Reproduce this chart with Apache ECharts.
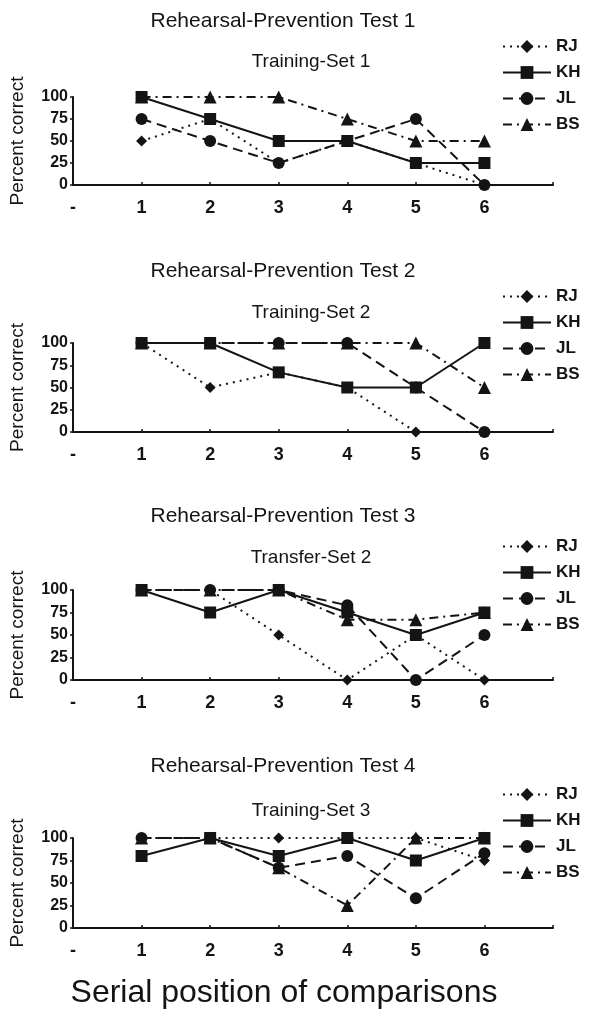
<!DOCTYPE html>
<html>
<head>
<meta charset="utf-8">
<script src="https://cdn.jsdelivr.net/npm/echarts@6/dist/echarts.min.js"></script>
<style>
html,body{margin:0;padding:0;background:#fff;}
#chart{width:603px;height:1022px;}
</style>
</head>
<body>
<div id="chart"></div>
<script>
// ---- data ----
const xCategories = ['-', '1', '2', '3', '4', '5', '6', ''];
const yTicks = [0, 25, 50, 75, 100];
const subjects = ['RJ', 'KH', 'JL', 'BS'];
const panelTitles = ['Rehearsal-Prevention Test 1', 'Rehearsal-Prevention Test 2', 'Rehearsal-Prevention Test 3', 'Rehearsal-Prevention Test 4'];
const panelSubtitles = ['Training-Set 1', 'Training-Set 2', 'Transfer-Set 2', 'Training-Set 3'];
const xAxisTitle = 'Serial position of comparisons';
const yAxisTitle = 'Percent correct';

// Test 1 (Training-Set 1), positions 1..6
const t1RJ = [50, 75, 25, 50, 25, 0];
const t1KH = [100, 75, 50, 50, 25, 25];
const t1JL = [75, 50, 25, 50, 75, 0];
const t1BS = [100, 100, 100, 75, 50, 50];
// Test 2 (Training-Set 2)
const t2RJ = [100, 50, 67, 50, 0, 0];
const t2KH = [100, 100, 67, 50, 50, 100];
const t2JL = [100, 100, 100, 100, 50, 0];
const t2BS = [100, 100, 100, 100, 100, 50];
// Test 3 (Transfer-Set 2)
const t3RJ = [100, 100, 50, 0, 50, 0];
const t3KH = [100, 75, 100, 75, 50, 75];
const t3JL = [100, 100, 100, 83, 0, 50];
const t3BS = [100, 100, 100, 67, 67, 75];
// Test 4 (Training-Set 3)
const t4RJ = [100, 100, 100, 100, 100, 75];
const t4KH = [80, 100, 80, 100, 75, 100];
const t4JL = [100, 100, 67, 80, 33, 83];
const t4BS = [100, 100, 67, 25, 100, 100];

const panelData = [
  [t1RJ, t1KH, t1JL, t1BS],
  [t2RJ, t2KH, t2JL, t2BS],
  [t3RJ, t3KH, t3JL, t3BS],
  [t4RJ, t4KH, t4JL, t4BS]
];

// ---- layout / style ----
const INK = '#141414';
const FONT = 'Liberation Sans, Arial, sans-serif';
const gridTops = [97, 343, 590, 838];
const gridHeights = [88, 89, 90, 90];
const titleYs = [21, 271, 516, 766];
const subYs = [62, 313, 558, 811];
const legendTops = [33, 283, 533, 781];

const styles = {
  RJ: { symbol: 'diamond', size: 11, line: [2, 5], width: 2 },
  KH: { symbol: 'rect', size: 12, line: 'solid', width: 2 },
  JL: { symbol: 'circle', size: 12, line: [10, 6], width: 2 },
  BS: { symbol: 'triangle', size: 13, line: [9, 5, 2, 5], width: 2 }
};

const grids = [], xAxes = [], yAxes = [], series = [], legends = [], graphics = [];
for (let p = 0; p < 4; p++) {
  grids.push({ left: 70, right: 50, top: gridTops[p], height: gridHeights[p] });
  xAxes.push({
    type: 'category', gridIndex: p, data: xCategories, boundaryGap: false,
    axisLine: { lineStyle: { color: INK, width: 2 } },
    axisTick: { show: true, length: 3, inside: true, lineStyle: { color: INK, width: 1.5 } },
    axisLabel: { color: INK, fontFamily: FONT, fontSize: 18, fontWeight: 'bold', margin: 14, interval: 0 },
    splitLine: { show: false }
  });
  yAxes.push({
    type: 'value', gridIndex: p, min: yTicks[0], max: yTicks[yTicks.length - 1], interval: 25,
    name: yAxisTitle, nameLocation: 'middle', nameGap: 46,
    nameTextStyle: { color: INK, fontFamily: FONT, fontSize: 19 },
    axisLine: { show: true, lineStyle: { color: INK, width: 2 } },
    axisTick: { show: true, length: 3, lineStyle: { color: INK, width: 1.5 } },
    axisLabel: { color: INK, fontFamily: FONT, fontSize: 16, fontWeight: 'bold', margin: 5 },
    splitLine: { show: false }
  });
  subjects.forEach((s, i) => {
    const st = styles[s];
    series.push({
      name: s, type: 'line', xAxisIndex: p, yAxisIndex: p,
      data: [null].concat(panelData[p][i]).concat([null]),
      symbol: st.symbol, symbolSize: st.size, showSymbol: true,
      itemStyle: { color: INK },
      lineStyle: { color: INK, width: st.width, type: st.line },
      animation: false, z: 3 + i
    });
  });
  legends.push({
    orient: 'vertical', left: 497, top: legendTops[p], itemGap: 9,
    itemWidth: 48, itemHeight: 16, data: subjects,
    textStyle: { color: INK, fontFamily: FONT, fontSize: 17, fontWeight: 'bold', padding: [0, 0, 0, 0] },
    selectedMode: false
  });
  graphics.push({
    type: 'text', x: 283, y: titleYs[p],
    style: { text: panelTitles[p], fill: INK, font: 'normal 21px ' + FONT, textAlign: 'center', textVerticalAlign: 'middle' }
  });
  graphics.push({
    type: 'text', x: 311, y: subYs[p],
    style: { text: panelSubtitles[p], fill: INK, font: 'normal 19px ' + FONT, textAlign: 'center', textVerticalAlign: 'middle' }
  });
}
graphics.push({
  type: 'text', x: 284, y: 993,
  style: { text: xAxisTitle, fill: INK, font: 'normal 32px ' + FONT, textAlign: 'center', textVerticalAlign: 'middle' }
});

const chart = echarts.init(document.getElementById('chart'), null, { renderer: 'canvas' });
chart.setOption({
  backgroundColor: '#ffffff',
  animation: false,
  grid: grids, xAxis: xAxes, yAxis: yAxes, series: series,
  legend: legends, graphic: graphics
});
</script>
</body>
</html>
